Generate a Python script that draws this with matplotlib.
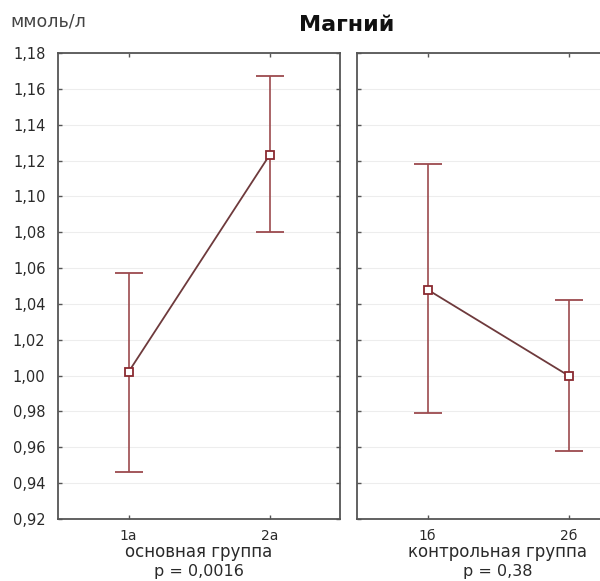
import matplotlib
matplotlib.use("Agg")
import matplotlib.pyplot as plt
import numpy as np

plt.rcParams['font.family'] = ['DejaVu Sans']

title = "Магний"
unit_label = "ммоль/л"

left_cats = ["1а", "2а"]
left_means = [1.002, 1.123]
left_upper = [1.057, 1.167]
left_lower = [0.946, 1.080]
left_group = "основная группа"
left_p = "p = 0,0016"

right_cats = ["1б", "2б"]
right_means = [1.048, 1.000]
right_upper = [1.118, 1.042]
right_lower = [0.979, 0.958]
right_group = "контрольная группа"
right_p = "p = 0,38"

yticks = [0.92, 0.94, 0.96, 0.98, 1.00, 1.02, 1.04, 1.06, 1.08, 1.10, 1.12, 1.14, 1.16, 1.18]
ytick_labels = [f"{v:.2f}".replace(".", ",") for v in yticks]

W, H = 600, 581
fig = plt.figure(figsize=(W / 100, H / 100), dpi=100)
fig.patch.set_facecolor("white")

bottom = 1 - 519 / H
top = 1 - 53 / H
ax_h = top - bottom
axL = fig.add_axes([58 / W, bottom, 282 / W, ax_h])
axR = fig.add_axes([357 / W, bottom, 282 / W, ax_h])

err_color = "#9c4a4e"
line_color = "#6e3a3c"
spine_color = "#555555"
text_color = "#2a2a2a"

def draw(ax, cats, means, upper, lower, group, ptxt, show_labels):
    x = np.arange(len(cats))
    means = np.array(means)
    yerr = [means - np.array(lower), np.array(upper) - means]
    ax.plot(x, means, color=line_color, lw=1.3, zorder=3)
    ax.errorbar(x, means, yerr=yerr, fmt="none", ecolor=err_color,
                elinewidth=1.2, capsize=10, capthick=1.3, zorder=2)
    ax.plot(x, means, ls="none", marker="s", ms=6, mfc="white",
            mec="#8a2a30", mew=1.3, zorder=4)
    ax.set_xlim(-0.5, 1.5)
    ax.set_ylim(0.92, 1.18)
    ax.set_yticks(yticks)
    ax.set_xticks(x)
    ax.set_xticklabels(cats, fontsize=10, color=text_color)
    if show_labels:
        ax.set_yticklabels(ytick_labels, fontsize=10.5, color=text_color)
    else:
        ax.set_yticklabels([])
    ax.tick_params(axis="both", direction="in", length=3, width=1,
                   color=spine_color, top=True, right=True)
    ax.tick_params(axis="y", pad=9)
    ax.tick_params(axis="x", pad=7)
    ax.grid(axis="y", color="#ededed", lw=0.8)
    ax.set_axisbelow(True)
    for s in ax.spines.values():
        s.set_color(spine_color)
        s.set_linewidth(1.3)
    ax.text(0.5, -38 / 466, group, transform=ax.transAxes, ha="center", va="baseline",
            fontsize=12, color=text_color)
    ax.text(0.5, -57 / 466, ptxt, transform=ax.transAxes, ha="center", va="baseline",
            fontsize=11.5, color=text_color)

draw(axL, left_cats, left_means, left_upper, left_lower, left_group, left_p, True)
draw(axR, right_cats, right_means, right_upper, right_lower, right_group, right_p, False)

fig.text(347 / W, 1 - 25 / H, title, ha="center", va="center", fontsize=16,
         fontweight="bold", color="#111111")
fig.text(10 / W, 1 - 21 / H, unit_label, ha="left", va="center", fontsize=12.5,
         color="#444444")

fig.savefig("out.png", dpi=100, facecolor="white")
